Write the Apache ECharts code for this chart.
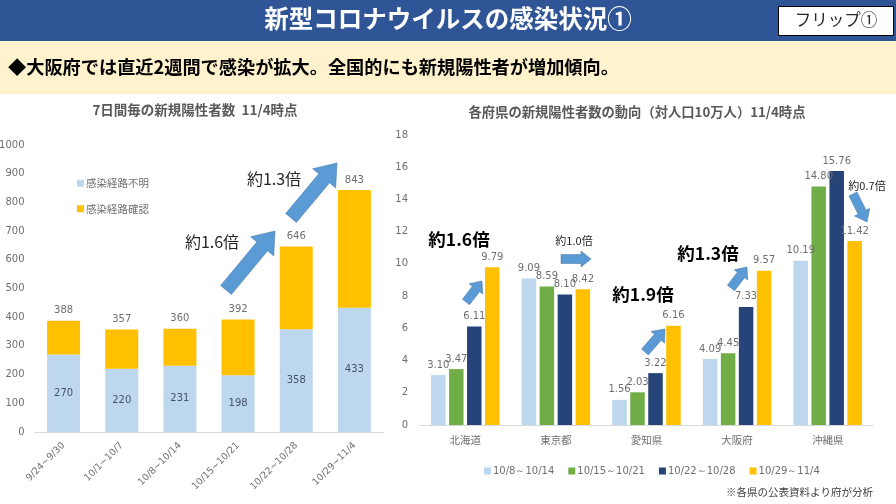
<!DOCTYPE html>
<html><head><meta charset="utf-8">
<style>html,body{margin:0;padding:0;background:#fff}#c{width:896px;height:504px}</style>
<script src="https://cdn.jsdelivr.net/npm/echarts@6/dist/echarts.min.js"></script>
</head><body><div id="c"></div>
<script>
const weeks = ['9/24~9/30','10/1~10/7','10/8~10/14','10/15~10/21','10/22~10/28','10/29~11/4'];
const unknownRoute = [270,220,231,198,358,433];
const knownRoute = [118,137,129,194,288,410];
const weekTotals = [388,357,360,392,646,843];
const leftTicks = 100;
const prefectures = ['北海道','東京都','愛知県','大阪府','沖縄県'];
const week1 = [3.10,9.09,1.56,4.09,10.19];
const week2 = [3.47,8.59,2.03,4.45,14.80];
const week3 = [6.11,8.10,3.22,7.33,15.76];
const week4 = [9.79,8.42,6.16,9.57,11.42];
const weekNames = ['10/8～10/14','10/15～10/21','10/22～10/28','10/29～11/4'];

const JP = '"Noto Sans CJK JP","Noto Sans",sans-serif';
const NUM = '"DejaVu Sans",sans-serif';
const GREY = '#6f6f6f', LINE = '#d9d9d9';
const BLUE = '#bdd7ee', YEL = '#ffc000', GRN = '#70ad47', NAVY = '#264478', ARW = '#5b9bd5';

function arrow(x1,y1,x2,y2,w,hw,hl){
  const d=Math.hypot(x2-x1,y2-y1), ux=(x2-x1)/d, uy=(y2-y1)/d, nx=-uy, ny=ux;
  const bx=x2-ux*hl, by=y2-uy*hl;
  return {type:'polygon',z:10,shape:{points:[
    [x1+nx*w/2,y1+ny*w/2],[bx+nx*w/2,by+ny*w/2],[bx+nx*hw/2,by+ny*hw/2],[x2,y2],
    [bx-nx*hw/2,by-ny*hw/2],[bx-nx*w/2,by-ny*w/2],[x1-nx*w/2,y1-ny*w/2]]},
    style:{fill:ARW,stroke:'#41719c',lineWidth:0.5}};
}
function txt(s,x,y,size,o){
  o=o||{};
  return {type:'text',z:11,x:x,y:y,style:{text:s,fontSize:size,fontFamily:JP,fontWeight:o.w||'normal',
    fill:o.c||'#262626',align:o.a||'center',verticalAlign:'middle'}};
}
const graphics = [
  {type:'rect',z:1,shape:{x:0,y:0,width:896,height:41},style:{fill:'#2f5597'}},
  {type:'rect',z:1,shape:{x:0,y:41,width:896,height:53},style:{fill:'#fff2cc'}},
  {type:'rect',z:2,shape:{x:778.5,y:6.5,width:115,height:29},style:{fill:'#fff',stroke:'#000',lineWidth:1}},
  txt('新型コロナウイルスの感染状況①',448,19,24.5,{w:'bold',c:'#fff'}),
  txt('フリップ①',836,20,16.5,{c:'#262626'}),
  txt('◆大阪府では直近2週間で感染が拡大。全国的にも新規陽性者が増加傾向。',8,67,18.2,{w:'bold',c:'#000',a:'left'}),
  txt('7日間毎の新規陽性者数  11/4時点',195,110,13.5,{w:'bold',c:'#595959'}),
  txt('各府県の新規陽性者数の動向（対人口10万人）11/4時点',637,112,13.3,{w:'bold',c:'#595959'}),
  txt('※各県の公表資料より府が分析',873,492,10.5,{c:'#404040',a:'right'}),
  arrow(226,290,275,231,14,30,20),
  arrow(291,218,337,163,14,30,20),
  arrow(466,302,482,281,9,17,10),
  arrow(561,259,591,259,9,16,10),
  arrow(645,352,665,329,9,18,11),
  arrow(731,288,747,267,9,17,10),
  arrow(853,194,867,222,9,17,11),
  txt('約1.6倍',212,242,16),
  txt('約1.3倍',274,179,16),
  txt('約1.6倍',459,239,17.5,{w:'bold',c:'#000'}),
  txt('約1.0倍',574,241,11),
  txt('約1.9倍',643,294,17.5,{w:'bold',c:'#000'}),
  txt('約1.3倍',708,253,17.5,{w:'bold',c:'#000'}),
  txt('約0.7倍',867,186,11)
];
const axisLabel = {color:GREY,fontSize:10,fontFamily:NUM,formatter:v=>String(v)};
function groupSeries(name,data,color){
  return {name:name,type:'bar',xAxisIndex:1,yAxisIndex:1,data:data,barWidth:14.5,barGap:'24%',
    itemStyle:{color:color},
    label:{show:true,position:'top',distance:5,color:GREY,fontSize:10,fontFamily:NUM,
      formatter:p=>p.value.toFixed(2)}};
}
const chart = echarts.init(document.getElementById('c'),null,{renderer:'canvas'});
chart.setOption({
  animation:false,
  backgroundColor:'#fff',
  textStyle:{fontFamily:JP},
  grid:[
    {left:34.5,top:145,width:349,height:287,outerBoundsMode:'none'},
    {left:420,top:135,width:453,height:290,outerBoundsMode:'none'}
  ],
  xAxis:[
    {type:'category',gridIndex:0,data:weeks,
      axisLine:{lineStyle:{color:LINE}},axisTick:{show:false},
      axisLabel:{color:GREY,fontSize:9.5,fontFamily:NUM,rotate:45,interval:0,margin:12}},
    {type:'category',gridIndex:1,data:prefectures,
      axisLine:{lineStyle:{color:LINE}},axisTick:{show:false},
      axisLabel:{color:GREY,fontSize:10.5,fontFamily:JP,interval:0,margin:10}}
  ],
  yAxis:[
    {type:'value',gridIndex:0,min:0,max:1000,interval:leftTicks,splitLine:{show:false},
      axisLine:{show:false},axisTick:{show:false},axisLabel:Object.assign({margin:10},axisLabel)},
    {type:'value',gridIndex:1,min:0,max:18,interval:2,splitLine:{show:false},
      axisLine:{show:false},axisTick:{show:false},axisLabel:Object.assign({margin:12},axisLabel)}
  ],
  legend:[
    {orient:'vertical',left:72,top:173,itemWidth:7,itemHeight:7,itemGap:15,icon:'rect',
      data:['感染経路不明','感染経路確認'],
      textStyle:{color:GREY,fontSize:10.5,fontFamily:JP,padding:[0,0,0,-3]}},
    {orient:'horizontal',left:479,top:461,itemWidth:7,itemHeight:7,itemGap:14,icon:'rect',
      data:weekNames,
      textStyle:{color:GREY,fontSize:10,fontFamily:NUM,padding:[0,0,0,-3]}}
  ],
  series:[
    {name:'感染経路不明',type:'bar',stack:'a',xAxisIndex:0,yAxisIndex:0,data:unknownRoute,barWidth:33,
      itemStyle:{color:BLUE},
      label:{show:true,position:'inside',color:'#44546a',fontSize:10,fontFamily:NUM}},
    {name:'感染経路確認',type:'bar',stack:'a',xAxisIndex:0,yAxisIndex:0,data:knownRoute,barWidth:33,
      itemStyle:{color:YEL},
      label:{show:true,position:'top',distance:5,color:GREY,fontSize:10,fontFamily:NUM,
        formatter:p=>String(weekTotals[p.dataIndex])}},
    groupSeries(weekNames[0],week1,BLUE),
    groupSeries(weekNames[1],week2,GRN),
    groupSeries(weekNames[2],week3,NAVY),
    groupSeries(weekNames[3],week4,YEL)
  ],
  graphic:graphics
});
</script></body></html>
